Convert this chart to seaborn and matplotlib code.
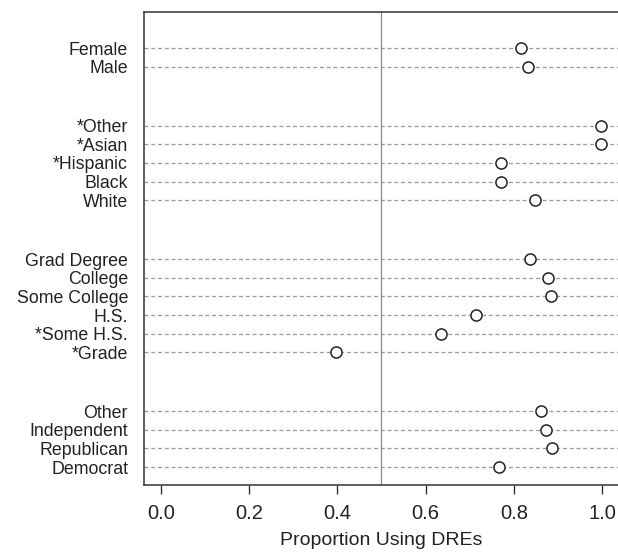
import numpy as np
import pandas as pd
import matplotlib
matplotlib.use("Agg")
import matplotlib.pyplot as plt
import seaborn as sns

# Data: proportion using DREs by group
gender = ["Female", "Male"]
gender_vals = [0.816, 0.831]

race = ["*Other", "*Asian", "*Hispanic", "Black", "White"]
race_vals = [0.998, 0.998, 0.771, 0.771, 0.848]

education = ["Grad Degree", "College", "Some College", "H.S.", "*Some H.S.", "*Grade"]
education_vals = [0.836, 0.877, 0.884, 0.714, 0.635, 0.397]

party = ["Other", "Independent", "Republican", "Democrat"]
party_vals = [0.861, 0.873, 0.886, 0.766]

groups = [(gender, gender_vals), (race, race_vals),
          (education, education_vals), (party, party_vals)]

# build row positions, with a gap between groups
group_gap = 3.15
rows = []
pos = 0.0
for g, (labels, vals) in enumerate(groups):
    if g > 0:
        pos += group_gap - 1
    for lab, v in zip(labels, vals):
        rows.append({"label": lab, "value": v, "pos": pos})
        pos += 1
df = pd.DataFrame(rows)

sns.set_style("white")
plt.rcParams["font.family"] = ["Liberation Sans", "DejaVu Sans"]

fig = plt.figure(figsize=(6.18, 5.52), dpi=100)
ax = fig.add_axes([144 / 618, 1 - 485 / 552, 1 - 144 / 618, (485 - 11.7) / 552])

# dashed guide lines for each row
ax.hlines(df["pos"], -0.1, 1.2, colors="#9a9a9a", linestyles=(0, (3.2, 2.2)),
          linewidth=0.9, zorder=1)
ax.axvline(0.5, color="#8a8a8a", linewidth=0.9, zorder=1)

sns.scatterplot(data=df, x="value", y="pos", ax=ax, marker="o", s=64,
                facecolor="white", edgecolor="#222222", linewidth=1.1, zorder=3)

ax.set_xlim(-0.038, 1.036)
ax.set_ylim(df["pos"].max() + 0.96, -1.96)

ax.set_yticks(df["pos"])
ax.set_yticklabels(df["label"], fontsize=12.8, color="#222222")
ax.tick_params(axis="y", length=0, pad=11.5)

ax.set_xticks([0.0, 0.2, 0.4, 0.6, 0.8, 1.0])
ax.set_xticklabels(["0.0", "0.2", "0.4", "0.6", "0.8", "1.0"], fontsize=14.5, color="#222222")
ax.tick_params(axis="x", length=6.5, width=1.0, color="#333333", pad=7, direction="out", bottom=True)

ax.set_xlabel("Proportion Using DREs", fontsize=14, color="#222222", labelpad=7)
ax.set_ylabel("")

for side in ["left", "top", "bottom"]:
    ax.spines[side].set_visible(True)
    ax.spines[side].set_color("#333333")
    ax.spines[side].set_linewidth(1.1)
ax.spines["right"].set_visible(False)

fig.savefig("out.png", dpi=100)
